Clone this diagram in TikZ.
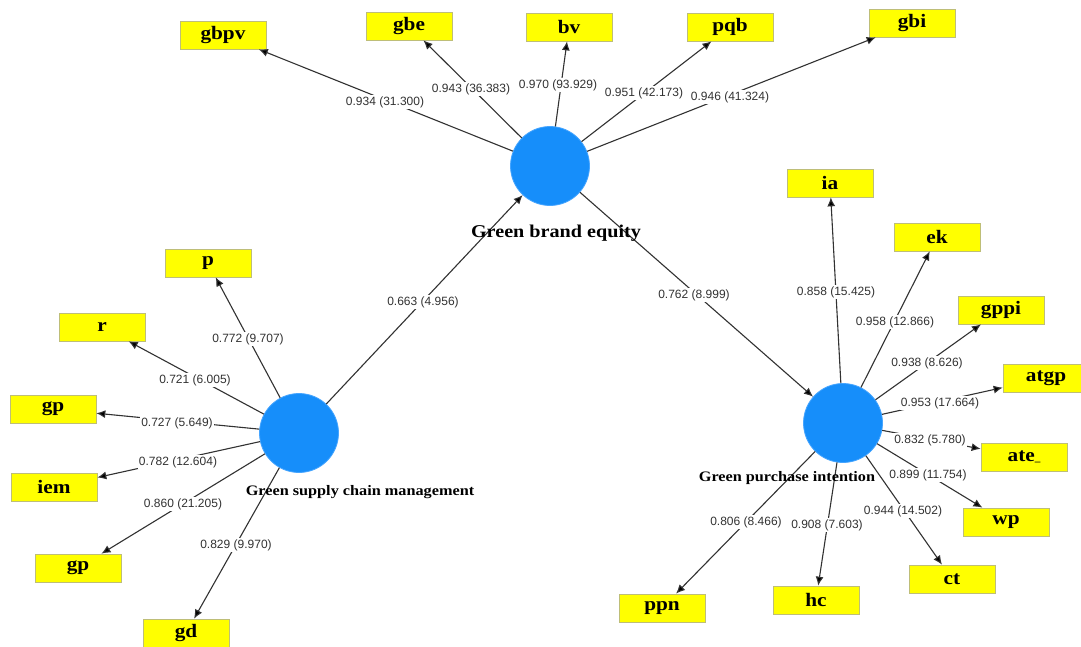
\documentclass[tikz,border=0pt]{standalone}
\usepackage{fontspec}
\usetikzlibrary{arrows.meta}
\newfontfamily\boxfont[FakeStretch=1.12]{Liberation Serif}
\newfontfamily\numfont{Liberation Sans}
\definecolor{lvblue}{RGB}{22,142,250}
\definecolor{lvborder}{RGB}{70,165,255}
\definecolor{indyellow}{RGB}{255,255,0}
\definecolor{indborder}{RGB}{190,190,120}
\definecolor{edgegray}{RGB}{50,50,50}
\begin{document}
\begin{tikzpicture}[x=1pt,y=-1pt,
  latent/.style={circle,fill=lvblue,draw=lvborder,line width=0.8pt,minimum size=79pt,inner sep=0pt},
  ind/.style={rectangle,fill=indyellow,draw=indborder,line width=0.7pt,minimum width=86pt,minimum height=28pt,inner sep=0pt,font=\boxfont\bfseries\fontsize{19}{20}\selectfont},
  lbl/.style={font=\boxfont\bfseries\fontsize{14.5}{16}\selectfont,inner sep=0pt},
  biglbl/.style={font=\boxfont\bfseries\fontsize{18}{20}\selectfont,inner sep=0pt},
  load/.style={font=\numfont\fontsize{12}{14}\selectfont,text=edgegray,fill=white,inner sep=1pt},
  arr/.style={draw=edgegray,line width=1.1pt,-{Latex[length=9pt,width=8pt,fill=black]}}
]
\useasboundingbox (0,0) rectangle (1081,646);
\fill[white] (0,0) rectangle (1081,646);

% latent variables
\node[latent] (gbeq) at (550,166) {};
\node[latent] (gscm) at (299,433) {};
\node[latent] (gpi) at (843,423) {};

% indicators
\node[ind] (gbpv) at (223,35) {gbpv};
\node[ind] (gbe) at (409,26) {gbe};
\node[ind] (bv) at (569,27) {bv};
\node[ind] (pqb) at (730,27) {pqb};
\node[ind] (gbi) at (912,23) {gbi};

\node[ind] (p) at (208,263) {p};
\node[ind] (r) at (102,327) {r};
\node[ind] (gpa) at (53,409) {gp};
\node[ind] (iem) at (54,487) {iem};
\node[ind] (gpb) at (78,568) {gp};
\node[ind] (gd) at (186,633) {gd};

\node[ind] (ia) at (830,183) {ia};
\node[ind] (ek) at (937,237) {ek};
\node[ind] (gppi) at (1001,310) {gppi};
\node[ind] (atgp) at (1046,378) {atgp};
\node[ind] (ate) at (1024,457) {ate{\fontsize{10}{10}\selectfont\_}};
\node[ind] (wp) at (1006,522) {wp};
\node[ind] (ct) at (952,579) {ct};
\node[ind] (hc) at (816,600) {hc};
\node[ind] (ppn) at (662,608) {ppn};

% connectors
\foreach \t in {gbpv,gbe,bv,pqb,gbi} \draw[arr] (gbeq) -- (\t);
\foreach \t in {p,r,gpa,iem,gpb,gd} \draw[arr] (gscm) -- (\t);
\foreach \t in {ia,ek,gppi,atgp,ate,wp,ct,hc,ppn} \draw[arr] (gpi) -- (\t);
\draw[arr] (gscm) -- (gbeq);
\draw[arr] (gbeq) -- (gpi);

% loadings
\node[load] at (385,102) {0.934 (31.300)};
\node[load] at (471,89) {0.943 (36.383)};
\node[load] at (558,85) {0.970 (93.929)};
\node[load] at (644,93) {0.951 (42.173)};
\node[load] at (730,97) {0.946 (41.324)};
\node[load] at (423,302) {0.663 (4.956)};
\node[load] at (694,295) {0.762 (8.999)};
\node[load] at (248,339) {0.772 (9.707)};
\node[load] at (195,380) {0.721 (6.005)};
\node[load] at (177,423) {0.727 (5.649)};
\node[load] at (178,462) {0.782 (12.604)};
\node[load] at (183,504) {0.860 (21.205)};
\node[load] at (236,545) {0.829 (9.970)};
\node[load] at (836,292) {0.858 (15.425)};
\node[load] at (895,322) {0.958 (12.866)};
\node[load] at (927,363) {0.938 (8.626)};
\node[load] at (940,403) {0.953 (17.664)};
\node[load] at (930,440) {0.832 (5.780)};
\node[load] at (928,475) {0.899 (11.754)};
\node[load] at (903,511) {0.944 (14.502)};
\node[load] at (827,525) {0.908 (7.603)};
\node[load] at (746,522) {0.806 (8.466)};

% latent labels
\node[biglbl] (gbeqlbl) at (556,233) {Green brand equity};
\node[lbl] (gscmlbl) at (360,492) {Green supply chain management};
\node[lbl] (gpilbl) at (787,478) {Green purchase intention};
\end{tikzpicture}
\end{document}
